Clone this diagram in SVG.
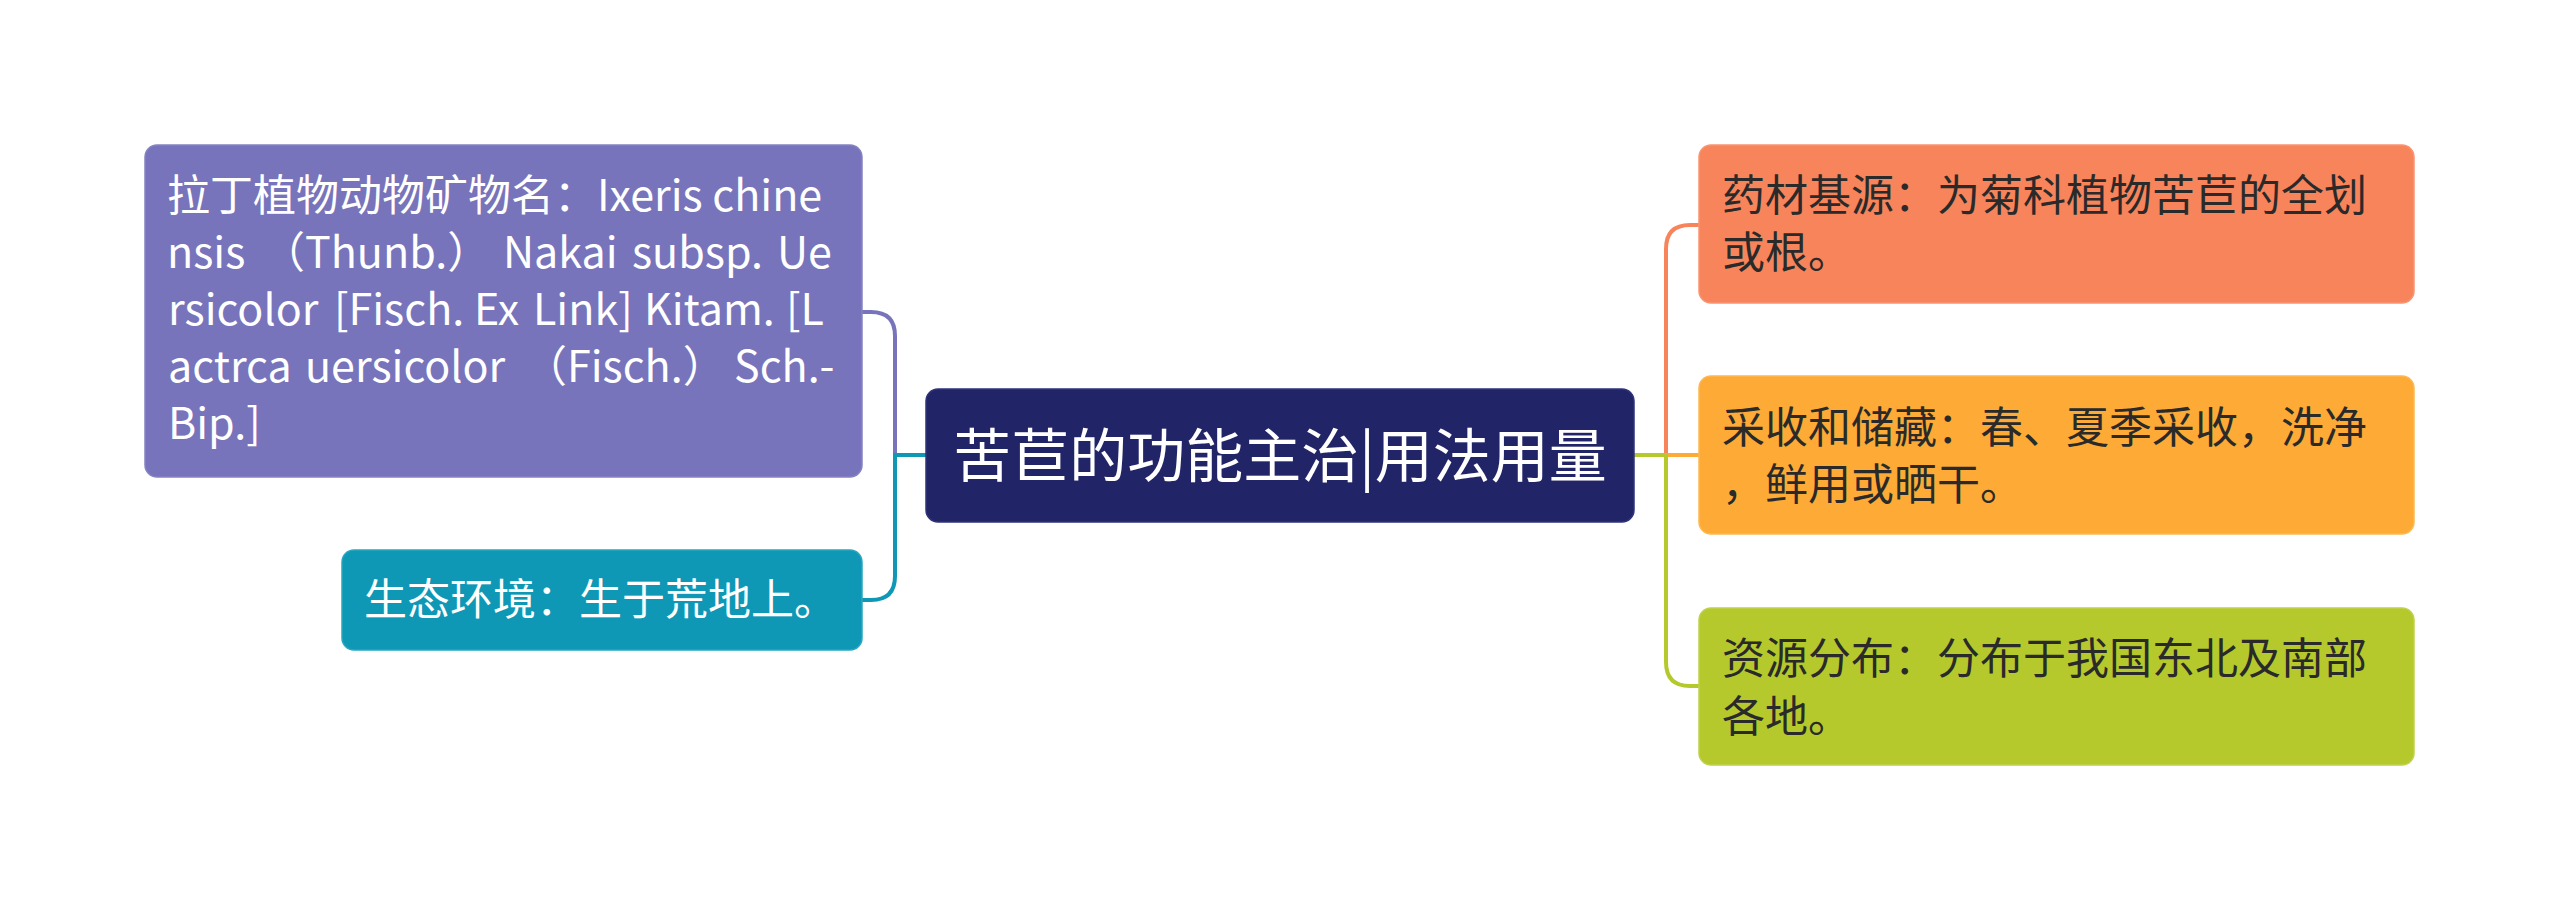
<svg xmlns="http://www.w3.org/2000/svg" width="2560" height="911" viewBox="0 0 2560 911">
<style>
text{font-family:"Noto Sans CJK SC","Microsoft YaHei",sans-serif;}
.t{font-size:43px;}
.w{fill:#ffffff;}
.d{fill:#2a2a2a;}
.c{fill:none;stroke-width:4;stroke-linecap:round;}
</style>
<rect width="2560" height="911" fill="#ffffff"/>
<g id="connectors">
<path class="c" stroke="#7774BB" d="M 926 455 H 895 V 336 Q 895 312 871 312 H 862"/>
<path class="c" stroke="#0E98B6" d="M 926 455 H 895 V 576 Q 895 600 871 600 H 862"/>
<path class="c" stroke="#F7845A" d="M 1634 455 H 1666 V 249 Q 1666 225 1690 225 H 1699"/>
<path class="c" stroke="#FDAA36" d="M 1634 455 H 1699"/>
<path class="c" stroke="#B5C92C" d="M 1634 455 H 1666 V 662 Q 1666 686 1690 686 H 1699"/>
</g>
<g id="center">
<rect x="926" y="389" width="708" height="133" rx="12" fill="#212467" stroke="#2f337a" stroke-width="1.5"/>
<text x="1280" y="477" text-anchor="middle" font-size="58" class="w">苦苣的功能主治|用法用量</text>
</g>
<g id="latin">
<rect x="145" y="145" width="717" height="332" rx="12" fill="#7774BB" stroke="#8583c4" stroke-width="1.5"/>
<text class="t w" y="211" x="167">拉丁植物动物矿物名：Ixeris chine</text>
<text class="t w" y="268"><tspan x="167">nsis</tspan><tspan x="262">（Thunb.）</tspan><tspan x="503">Nakai</tspan><tspan x="632">subsp.</tspan><tspan x="777">Ue</tspan></text>
<text class="t w" y="325"><tspan x="168">rsicolor</tspan><tspan x="334">[Fisch.</tspan><tspan x="474">Ex</tspan><tspan x="533">Link]</tspan><tspan x="644">Kitam.</tspan><tspan x="786">[L</tspan></text>
<text class="t w" y="382"><tspan x="168">actrca</tspan><tspan x="305">uersicolor</tspan><tspan x="524">（Fisch.）</tspan><tspan x="734">Sch.-</tspan></text>
<text class="t w" y="439" x="168">Bip.]</text>
</g>
<g id="habitat">
<rect x="342" y="550" width="520" height="100" rx="12" fill="#0E98B6" stroke="#2aa6c0" stroke-width="1.5"/>
<text class="t w" x="364" y="615">生态环境：生于荒地上。</text>
</g>
<g id="source">
<rect x="1699" y="145" width="715" height="158" rx="12" fill="#F7845A" stroke="#f99572" stroke-width="1.5"/>
<text class="t d" x="1722" y="211">药材基源：为菊科植物苦苣的全划</text>
<text class="t d" x="1722" y="268">或根。</text>
</g>
<g id="harvest">
<rect x="1699" y="376" width="715" height="158" rx="12" fill="#FDAA36" stroke="#fdb850" stroke-width="1.5"/>
<text class="t d" x="1722" y="443">采收和储藏：春、夏季采收，洗净</text>
<text class="t d" x="1722" y="500">，鲜用或晒干。</text>
</g>
<g id="distribution">
<rect x="1699" y="608" width="715" height="157" rx="12" fill="#B5C92C" stroke="#c0d14a" stroke-width="1.5"/>
<text class="t d" x="1722" y="674">资源分布：分布于我国东北及南部</text>
<text class="t d" x="1722" y="732">各地。</text>
</g>
</svg>
